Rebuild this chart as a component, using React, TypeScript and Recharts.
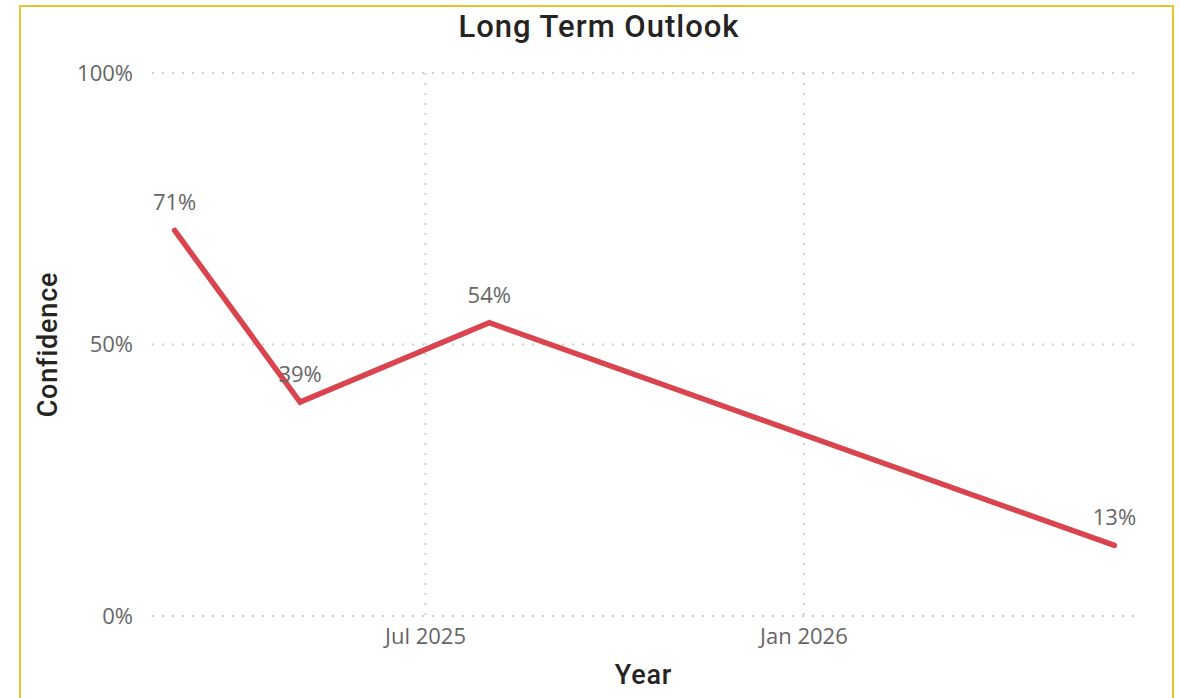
import React from 'react';
import { LineChart, Line, XAxis, YAxis, CartesianGrid, LabelList, Label } from 'recharts';

// Survey dates (first of month) and confidence in %
const dates = ['2025-03-01', '2025-05-01', '2025-08-01', '2026-06-01'];
const confidence = [71, 39.4, 54, 13];

const xTicks = ['2025-07-01', '2026-01-01'];
const yTicks = [0, 50, 100];
const xDomain = ['2025-02-18', '2026-06-11'];

const MONTHS = ['Jan', 'Feb', 'Mar', 'Apr', 'May', 'Jun', 'Jul', 'Aug', 'Sep', 'Oct', 'Nov', 'Dec'];
const ts = (d: string) => Date.parse(d + 'T00:00:00Z');

const data = dates.map((d, i) => ({ t: ts(d), value: confidence[i] }));

const TICK_FONT = '"Open Sans", sans-serif';
const TITLE_FONT = 'Roboto, sans-serif';
const RED = '#D9444F';

function fmtMonth(v: number) {
  const d = new Date(v);
  return `${MONTHS[d.getUTCMonth()]} ${d.getUTCFullYear()}`;
}

function YTitle(props: any) {
  const vb = props.viewBox || {};
  const cy = vb.y + vb.height / 2;
  const cx = 48;
  return (
    <text
      x={cx}
      y={cy}
      transform={`rotate(-90 ${cx} ${cy})`}
      textAnchor="middle"
      dominantBaseline="central"
      style={{ fontFamily: TITLE_FONT, fontWeight: 500, fontSize: 27, fill: '#252423', letterSpacing: 0.8 }}
    >
      Confidence
    </text>
  );
}

function XTitle(props: any) {
  const vb = props.viewBox || {};
  return (
    <text
      x={vb.x + vb.width / 2}
      y={675}
      textAnchor="middle"
      dominantBaseline="central"
      style={{ fontFamily: TITLE_FONT, fontWeight: 500, fontSize: 27, fill: '#252423', letterSpacing: 0.8 }}
    >
      Year
    </text>
  );
}

export default function App() {
  return (
    <div style={{ position: 'absolute', left: 0, top: 0, width: 1180, height: 698, background: 'white', overflow: 'hidden' }}>
      <div
        style={{
          position: 'absolute',
          left: 19,
          top: 5,
          width: 1151,
          height: 760,
          border: '2px solid #E8C430',
        }}
      />
      <div
        style={{
          position: 'absolute',
          left: 0,
          top: 5,
          width: 1198,
          textAlign: 'center',
          fontFamily: TITLE_FONT,
          fontWeight: 500,
          fontSize: 31,
          letterSpacing: 1,
          color: '#252423',
          lineHeight: '44px',
        }}
      >
        Long Term Outlook
      </div>
      <LineChart
        width={1180}
        height={698}
        data={data}
        margin={{ top: 73, right: 45, bottom: 0, left: 0 }}
        style={{ position: 'absolute', left: 0, top: 0 }}
      >
        <CartesianGrid
          stroke="#CFCFCF"
          strokeWidth={2}
          strokeDasharray="2 8"
          verticalValues={xTicks.map(ts)}
          horizontalValues={yTicks}
        />
        <XAxis
          dataKey="t"
          type="number"
          scale="time"
          domain={xDomain.map(ts)}
          ticks={xTicks.map(ts)}
          tickFormatter={fmtMonth}
          axisLine={false}
          tickLine={false}
          tickSize={0}
          tickMargin={12}
          height={82}
          tick={{ fontFamily: TICK_FONT, fontSize: 22, fill: '#666666' }}
        >
          <Label content={<XTitle />} />
        </XAxis>
        <YAxis
          type="number"
          domain={[0, 100]}
          ticks={yTicks}
          tickFormatter={(v: number) => `${v}%`}
          axisLine={false}
          tickLine={false}
          tickSize={0}
          tickMargin={19}
          width={152}
          tick={{ fontFamily: TICK_FONT, fontSize: 22, fill: '#666666' }}
        >
          <Label content={<YTitle />} />
        </YAxis>
        <Line
          type="linear"
          dataKey="value"
          stroke={RED}
          strokeWidth={5.5}
          strokeLinecap="round"
          strokeLinejoin="miter"
          dot={false}
          activeDot={false}
          isAnimationActive={false}
        >
          <LabelList
            dataKey="value"
            position="top"
            offset={20}
            formatter={(v: number) => `${Math.round(v)}%`}
            style={{ fontFamily: TICK_FONT, fontSize: 22, fill: '#666666' }}
          />
        </Line>
      </LineChart>
    </div>
  );
}
